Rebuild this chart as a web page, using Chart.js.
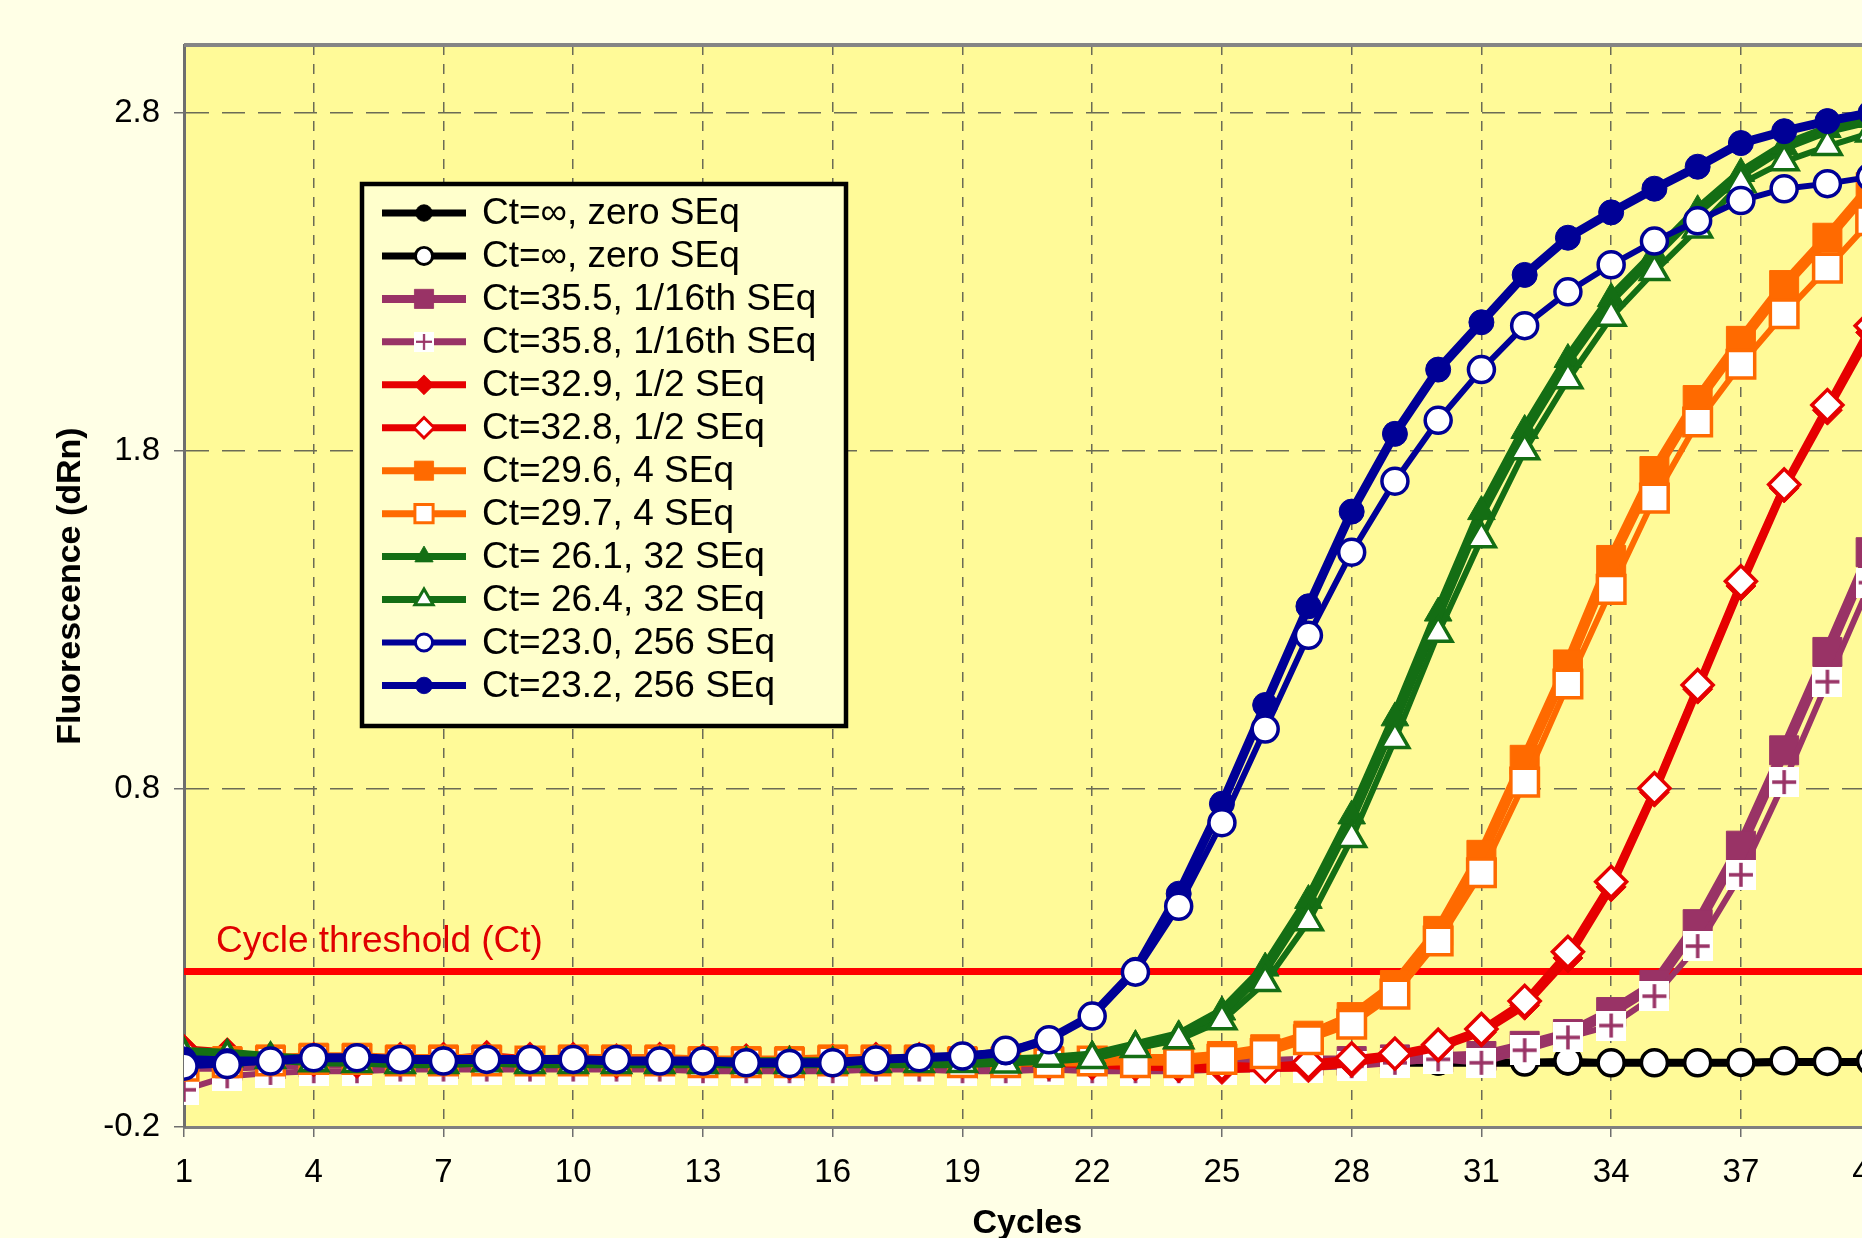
<!DOCTYPE html>
<html>
<head>
<meta charset="utf-8">
<title>Real-time PCR amplification</title>
<script src="https://cdn.jsdelivr.net/npm/chart.js"></script>
<style>
  html, body { margin: 0; padding: 0; background: #FFFFE6; overflow: hidden; }
  #wrap { width: 1905px; height: 1238px; }
</style>
</head>
<body>
<div id="wrap"><canvas id="pcrChart" width="1905" height="1238"></canvas></div>
<script>
// Données
const cycles = [1, 2, 3, 4, 5, 6, 7, 8, 9, 10, 11, 12, 13, 14, 15, 16, 17, 18, 19, 20,
                21, 22, 23, 24, 25, 26, 27, 28, 29, 30, 31, 32, 33, 34, 35, 36, 37, 38, 39, 40];
const xTicks = [1, 4, 7, 10, 13, 16, 19, 22, 25, 28, 31, 34, 37, 40];
const yTicks = [-0.2, 0.8, 1.8, 2.8];
const thresholdValue = 0.26;

const ctInfFilled = [0.01, 0.0, -0.005, 0.0, 0.0, -0.005, -0.005, 0.0, -0.005, -0.005, -0.01, -0.005, -0.01, -0.01, -0.01, -0.01, -0.005, -0.005, -0.005, -0.01,
                     -0.01, -0.01, -0.01, -0.01, -0.01, -0.01, -0.01, -0.01, -0.01, -0.01, -0.01, -0.01, -0.01, -0.01, -0.01, -0.01, -0.01, -0.008, -0.008, -0.008];
const ctInfOpen = [0.0, -0.005, -0.005, 0.0, 0.0, -0.005, 0.0, -0.005, -0.005, -0.005, -0.005, -0.01, -0.005, -0.01, -0.01, -0.005, -0.005, -0.005, -0.01, -0.005,
                   -0.01, -0.005, -0.01, -0.01, -0.005, -0.01, -0.01, -0.005, -0.01, -0.005, -0.005, -0.008, -0.004, -0.01, -0.01, -0.01, -0.009, -0.004, -0.006, -0.005];
const ct355 = [-0.02, -0.02, -0.015, -0.01, -0.01, -0.01, -0.015, -0.01, -0.01, -0.01, -0.01, -0.015, -0.015, -0.015, -0.02, -0.015, -0.01, -0.01, -0.015, -0.015,
               -0.01, -0.015, -0.015, -0.01, -0.01, -0.01, -0.005, -0.005, 0.0, 0.005, 0.01, 0.04, 0.075, 0.14, 0.22, 0.40, 0.632, 0.914, 1.205, 1.50];
const ct358 = [-0.09, -0.05, -0.04, -0.035, -0.035, -0.03, -0.03, -0.03, -0.03, -0.03, -0.03, -0.03, -0.035, -0.035, -0.035, -0.035, -0.03, -0.03, -0.035, -0.035,
               -0.03, -0.035, -0.035, -0.035, -0.03, -0.03, -0.025, -0.02, -0.01, 0.0, -0.01, 0.027, 0.065, 0.10, 0.187, 0.335, 0.546, 0.82, 1.117, 1.41];
const ct329 = [0.03, 0.02, 0.005, 0.0, 0.0, -0.005, 0.0, 0.01, 0.0, -0.005, -0.005, 0.0, -0.005, -0.01, -0.01, -0.005, 0.0, -0.005, -0.01, -0.01,
               -0.01, -0.015, -0.02, -0.025, -0.03, -0.025, -0.025, -0.01, 0.01, 0.035, 0.08, 0.16, 0.30, 0.51, 0.79, 1.095, 1.40, 1.69, 1.92, 2.15];
const ct328 = [0.02, 0.01, 0.0, 0.0, -0.005, 0.0, 0.0, 0.005, 0.0, 0.0, -0.005, 0.0, -0.005, -0.005, -0.01, -0.005, 0.0, 0.0, -0.005, -0.005,
               -0.01, -0.01, -0.01, -0.015, -0.015, -0.02, -0.01, 0.003, 0.017, 0.043, 0.09, 0.173, 0.318, 0.525, 0.802, 1.107, 1.414, 1.70, 1.935, 2.17];
const ct296 = [-0.01, -0.005, 0.0, 0.005, 0.005, 0.0, 0.0, 0.0, -0.005, 0.0, 0.0, 0.0, -0.005, -0.005, -0.005, 0.0, 0.0, 0.0, -0.005, -0.005,
               -0.005, -0.005, 0.0, 0.0, 0.01, 0.03, 0.07, 0.125, 0.22, 0.38, 0.605, 0.886, 1.168, 1.477, 1.74, 1.95, 2.125, 2.29, 2.43, 2.58];
const ct297 = [-0.02, -0.01, -0.005, 0.0, 0.0, -0.005, -0.005, -0.005, -0.005, -0.005, -0.005, -0.005, -0.01, -0.01, -0.01, -0.005, -0.005, -0.005, -0.01, -0.01,
               -0.01, -0.005, -0.01, -0.01, 0.0, 0.017, 0.058, 0.104, 0.193, 0.35, 0.552, 0.82, 1.11, 1.39, 1.66, 1.885, 2.056, 2.205, 2.34, 2.48];
const ct261 = [0.02, 0.015, 0.005, -0.005, -0.005, -0.01, -0.01, -0.005, -0.01, -0.01, -0.01, -0.01, -0.01, -0.01, -0.01, -0.01, -0.01, -0.01, -0.01, -0.005,
               0.0, 0.01, 0.04, 0.07, 0.14, 0.27, 0.47, 0.72, 1.01, 1.32, 1.62, 1.86, 2.07, 2.25, 2.38, 2.51, 2.62, 2.70, 2.75, 2.78];
const ct264 = [0.01, 0.005, 0.0, -0.01, -0.012, -0.015, -0.015, -0.01, -0.015, -0.015, -0.015, -0.015, -0.015, -0.015, -0.015, -0.015, -0.012, -0.012, -0.012, -0.014,
               0.006, 0.0, 0.032, 0.058, 0.114, 0.227, 0.407, 0.653, 0.946, 1.26, 1.54, 1.80, 2.01, 2.195, 2.33, 2.456, 2.59, 2.655, 2.70, 2.74];
const ct230 = [-0.02, -0.015, -0.005, 0.005, 0.005, 0.0, -0.005, 0.0, 0.0, 0.0, 0.0, -0.005, -0.005, -0.01, -0.012, -0.01, -0.002, 0.005, 0.01, 0.027,
               0.058, 0.128, 0.258, 0.453, 0.70, 0.977, 1.254, 1.50, 1.71, 1.89, 2.04, 2.17, 2.27, 2.35, 2.42, 2.48, 2.54, 2.575, 2.59, 2.61];
const ct232 = [0.0, -0.005, -0.005, 0.005, 0.005, 0.0, 0.0, 0.0, 0.0, 0.0, -0.005, -0.005, -0.005, -0.01, -0.01, -0.01, 0.0, 0.005, 0.01, 0.02,
               0.06, 0.13, 0.265, 0.49, 0.756, 1.048, 1.34, 1.62, 1.85, 2.04, 2.18, 2.32, 2.43, 2.505, 2.575, 2.64, 2.71, 2.745, 2.775, 2.80];

const NAVY = '#000096', GREEN = '#146E14', ORANGE = '#FF6A00', RED = '#E60000', PLUM = '#993366';
const gridColor = '#6B6B55';

// marqueur "+" dans un carré blanc (comme Excel)
function crossMarker(size, color) {
    const c = document.createElement('canvas');
    c.width = size; c.height = size;
    const g = c.getContext('2d');
    g.fillStyle = '#FFFFFF';
    g.fillRect(0, 0, size, size);
    g.strokeStyle = color;
    g.lineWidth = 3.5;
    g.beginPath();
    g.moveTo(size / 2, 3); g.lineTo(size / 2, size - 3);
    g.moveTo(3, size / 2); g.lineTo(size - 3, size / 2);
    g.stroke();
    return c;
}

function series(label, values, color, width, style, radius, hollow, order, legendWidth) {
    return {
        label: label,
        data: cycles.map((c, i) => ({ x: c, y: values[i] })),
        borderColor: color,
        borderWidth: width,
        borderJoinStyle: 'round',
        borderCapStyle: 'round',
        tension: 0,
        pointStyle: style,
        pointRadius: radius,
        pointBackgroundColor: hollow ? '#FFFFFF' : color,
        pointBorderColor: color,
        pointBorderWidth: hollow ? 3.5 : 1,
        order: order,
        legendWidth: legendWidth
    };
}

const datasets = [
    series('Ct=\u221E, zero SEq', ctInfFilled, '#000000', 8, 'circle', 12.5, false, 12, 7),
    series('Ct=\u221E, zero SEq', ctInfOpen, '#000000', 6, 'circle', 13, true, 11, 7),
    series('Ct=35.5, 1/16th SEq', ct355, PLUM, 11, 'rect', 20.5, false, 10, 8),
    series('Ct=35.8, 1/16th SEq', ct358, PLUM, 6, crossMarker(30, PLUM), 15, false, 9, 7),
    series('Ct=32.9, 1/2 SEq', ct329, RED, 8, 'rectRot', 15, false, 8, 7),
    series('Ct=32.8, 1/2 SEq', ct328, RED, 6, 'rectRot', 15.5, true, 7, 7),
    series('Ct=29.6, 4 SEq', ct296, ORANGE, 11, 'rect', 20.5, false, 6, 7),
    series('Ct=29.7, 4 SEq', ct297, ORANGE, 6, 'rect', 19.5, true, 5, 7),
    series('Ct= 26.1, 32 SEq', ct261, GREEN, 11, 'triangle', 16, false, 4, 7),
    series('Ct= 26.4, 32 SEq', ct264, GREEN, 6, 'triangle', 16, true, 3, 7),
    series('Ct=23.0, 256 SEq', ct230, NAVY, 6, 'circle', 13, true, 1, 6),
    series('Ct=23.2, 256 SEq', ct232, NAVY, 9, 'circle', 12.5, false, 2, 7)
];

// ligne de seuil (Ct)
datasets.push({
    label: 'threshold',
    data: [{ x: 1, y: thresholdValue }, { x: 40, y: thresholdValue }],
    borderColor: '#FF0000',
    borderWidth: 7,
    pointRadius: 0,
    order: 13,
    isThreshold: true
});

function drawMarker(ctx, ds, x, y, scale) {
    const style = ds.pointStyle;
    if (typeof style !== 'string') {
        const w = style.width * scale;
        ctx.drawImage(style, x - w / 2, y - w / 2, w, w);
        return;
    }
    const r = ds.pointRadius * scale;
    ctx.beginPath();
    if (style === 'circle') {
        ctx.arc(x, y, r, 0, Math.PI * 2);
    } else if (style === 'rect') {
        const h = r * Math.SQRT1_2;
        ctx.rect(x - h, y - h, 2 * h, 2 * h);
    } else if (style === 'rectRot') {
        ctx.moveTo(x - r, y); ctx.lineTo(x, y - r); ctx.lineTo(x + r, y); ctx.lineTo(x, y + r);
        ctx.closePath();
    } else if (style === 'triangle') {
        ctx.moveTo(x, y - r); ctx.lineTo(x + 0.866 * r, y + 0.5 * r); ctx.lineTo(x - 0.866 * r, y + 0.5 * r);
        ctx.closePath();
    }
    ctx.fillStyle = ds.pointBackgroundColor;
    ctx.fill();
    ctx.lineWidth = ds.pointBorderWidth * 0.85;
    ctx.strokeStyle = ds.pointBorderColor;
    ctx.stroke();
}

// fond jaune de la zone de tracé + bord supérieur
const plotFrame = {
    id: 'plotFrame',
    beforeDraw(chart) {
        const { ctx, chartArea: a } = chart;
        ctx.save();
        ctx.fillStyle = '#FFFA98';
        ctx.fillRect(a.left, a.top, a.right - a.left, a.bottom - a.top);
        ctx.restore();
    },
    beforeDatasetsDraw(chart) {
        const { ctx, chartArea: a } = chart;
        ctx.save();
        ctx.strokeStyle = '#858585';
        ctx.lineWidth = 4;
        ctx.beginPath();
        ctx.moveTo(a.left, a.top);
        ctx.lineTo(a.right, a.top);
        ctx.stroke();
        ctx.restore();
    },
    afterDatasetsDraw(chart) {
        const { ctx, chartArea: a, scales } = chart;
        ctx.save();
        ctx.fillStyle = '#E00000';
        ctx.font = '37px "Liberation Sans", Arial, sans-serif';
        ctx.textBaseline = 'alphabetic';
        ctx.fillText('Cycle threshold (Ct)', a.left + 32, scales.y.getPixelForValue(thresholdValue) - 19);
        ctx.restore();
    }
};

// légende encadrée dans la zone de tracé
const boxLegend = {
    id: 'boxLegend',
    afterDraw(chart) {
        const ctx = chart.ctx;
        const left = 362, top = 184, right = 846, bottom = 726;
        ctx.save();
        ctx.fillStyle = '#FFFFCC';
        ctx.fillRect(left, top, right - left, bottom - top);
        ctx.strokeStyle = '#000000';
        ctx.lineWidth = 4.5;
        ctx.strokeRect(left, top, right - left, bottom - top);
        ctx.font = '37px "Liberation Sans", Arial, sans-serif';
        ctx.textBaseline = 'middle';
        chart.data.datasets.filter(ds => !ds.isThreshold).forEach((ds, i) => {
            const y = 213 + i * 42.95;
            ctx.strokeStyle = ds.borderColor;
            ctx.lineWidth = ds.legendWidth;
            ctx.beginPath();
            ctx.moveTo(382, y);
            ctx.lineTo(466, y);
            ctx.stroke();
            drawMarker(ctx, ds, 424, y, 0.66);
            ctx.fillStyle = '#000000';
            ctx.fillText(ds.label, 482, y + 1);
        });
        ctx.restore();
    }
};

Chart.defaults.font.family = '"Liberation Sans", Arial, sans-serif';
Chart.defaults.color = '#000000';

const ctx = document.getElementById('pcrChart').getContext('2d');
new Chart(ctx, {
    type: 'line',
    data: { datasets: datasets },
    options: {
        responsive: false,
        animation: false,
        layout: { padding: { left: 0, right: 34, top: 45, bottom: 0 } },
        plugins: {
            legend: { display: false },
            tooltip: { enabled: false }
        },
        scales: {
            x: {
                type: 'linear',
                min: 1,
                max: 40,
                afterBuildTicks(scale) { scale.ticks = xTicks.map(v => ({ value: v })); },
                afterFit(scale) { scale.height = 111; },
                ticks: { font: { size: 33 }, padding: 16, maxRotation: 0, autoSkip: false },
                grid: {
                    color: c => (c.tick && c.tick.value === 1) ? 'rgba(0,0,0,0)' : gridColor,
                    lineWidth: 1.5,
                    tickLength: 10,
                    tickColor: '#6E6E6E'
                },
                border: { color: '#7F7F7F', width: 3, dash: [10, 9] },
                title: {
                    display: true,
                    text: 'Cycles',
                    font: { size: 34, weight: 'bold', lineHeight: 1 },
                    padding: { top: 0, bottom: -3 }
                }
            },
            y: {
                min: -0.2,
                max: 3.0,
                afterBuildTicks(scale) { scale.ticks = yTicks.map(v => ({ value: v })); },
                afterFit(scale) { scale.width = 184; },
                ticks: { font: { size: 33 }, padding: 14, callback: v => v.toFixed(1) },
                grid: {
                    color: c => (c.tick && c.tick.value === -0.2) ? 'rgba(0,0,0,0)' : gridColor,
                    lineWidth: 1.5,
                    tickLength: 10,
                    tickColor: '#6E6E6E'
                },
                border: { color: '#6E6E6E', width: 3, dash: [23, 13] },
                title: {
                    display: true,
                    text: 'Fluorescence (dRn)',
                    font: { size: 34, weight: 'bold', lineHeight: 1 },
                    padding: { top: 54, bottom: 0 }
                }
            }
        }
    },
    plugins: [plotFrame, boxLegend]
});
</script>
</body>
</html>
